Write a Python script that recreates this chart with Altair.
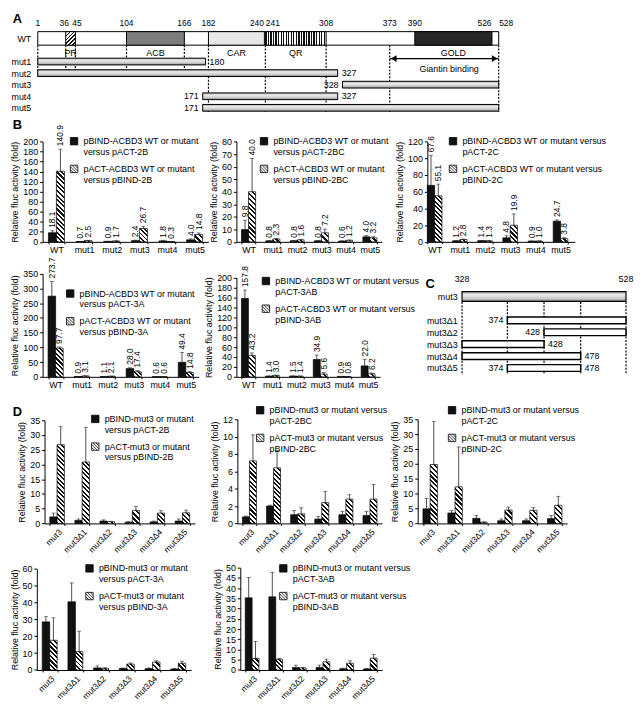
import math
import numpy as np
import altair as alt

FONT = "Liberation Sans"

# ======================= DATA =======================
# Panel A : ACBD3 wild type and truncation mutants (residue numbers)
A_rows = ["WT", " ", "mut1", "mut2", "mut3", "mut4", "mut5"]
A_length = 528
A_domains = ["PR", "ACB", "CAR", "QR", "GOLD"]
A_dom_start = [36, 104, 182, 241, 390]
A_dom_end = [45, 166, 240, 308, 526]
A_mutants = ["mut1", "mut2", "mut3", "mut4", "mut5"]
A_mut_start = [1, 1, 328, 171, 171]
A_mut_end = [180, 327, 528, 327, 528]
A_ticks = [1, 36, 45, 104, 166, 182, 240, 241, 308, 373, 390, 526, 528]
A_guides_short = [1, 36, 45, 104, 166]
A_guides_long = [182, 241, 308, 373, 528]
A_giantin = [373, 528]
A_giantin_label = "Giantin binding"

# Panel C : mut3 deletions
C_rows = ["mut3", " ", "mut3Δ1", "mut3Δ2", "mut3Δ3", "mut3Δ4", "mut3Δ5"]
C_parent = [328, 528]
C_dels = ["mut3Δ1", "mut3Δ2", "mut3Δ3", "mut3Δ4", "mut3Δ5"]
C_del_start = [374, 428, 328, 328, 374]
C_del_end = [528, 528, 428, 478, 478]
C_guides = [328, 374, 428, 478, 528]

# Panels B and D : relative fluc activity (fold)
CAT_B = ["WT", "mut1", "mut2", "mut3", "mut4", "mut5"]
CAT_D = ["mut3", "mut3Δ1", "mut3Δ2", "mut3Δ3", "mut3Δ4", "mut3Δ5"]
Y_TITLE = "Relative fluc activity (fold)"

B2B_labels = ["pBIND-ACBD3 WT or mutant|versus pACT-2B", "pACT-ACBD3 WT or mutant|versus pBIND-2B"]
B2B_bind = [18.1, 0.7, 0.9, 2.4, 1.8, 4.0]
B2B_bind_err = [4.0, 0.3, 0.3, 1.0, 0.6, 2.0]
B2B_act = [140.9, 2.5, 1.7, 26.7, 0.3, 14.8]
B2B_act_err = [44.0, 0.5, 0.4, 4.5, 0.1, 3.0]

B2BC_labels = ["pBIND-ACBD3 WT or mutant|versus pACT-2BC", "pACT-ACBD3 WT or mutant|versus pBIND-2BC"]
B2BC_bind = [9.8, 0.8, 0.8, 0.8, 0.6, 4.0]
B2BC_bind_err = [7.5, 0.2, 0.2, 0.2, 0.2, 1.0]
B2BC_act = [40.0, 2.3, 1.6, 7.2, 1.2, 3.2]
B2BC_act_err = [26.5, 0.4, 0.3, 3.0, 0.3, 1.0]

B2C_labels = ["pBIND-ACBD3 WT or mutant versus|pACT-2C", "pACT-ACBD3 WT or mutant versus|pBIND-2C"]
B2C_bind = [67.6, 1.2, 1.4, 4.8, 0.9, 24.7]
B2C_bind_err = [36.0, 0.3, 0.3, 2.5, 0.1, 1.5]
B2C_act = [55.1, 2.8, 1.3, 19.9, 1.0, 3.8]
B2C_act_err = [14.0, 0.5, 0.2, 13.5, 0.1, 1.2]

B3A_labels = ["pBIND-ACBD3 WT or mutant|versus pACT-3A", "pACT-ACBD3 WT or mutant|versus pBIND-3A"]
B3A_bind = [273.7, 0.9, 1.1, 28.0, 0.6, 49.4]
B3A_bind_err = [50.0, 0.3, 0.3, 3.0, 0.1, 33.0]
B3A_act = [97.7, 3.1, 2.1, 17.4, 0.6, 14.8]
B3A_act_err = [4.0, 0.4, 0.4, 4.0, 0.1, 3.0]

B3AB_labels = ["pBIND-ACBD3 WT or mutant versus|pACT-3AB", "pACT-ACBD3 WT or mutant versus|pBIND-3AB"]
B3AB_bind = [157.8, 1.4, 1.5, 34.9, 0.9, 22.0]
B3AB_bind_err = [17.0, 0.3, 0.3, 9.0, 0.1, 13.0]
B3AB_act = [43.2, 3.0, 1.4, 5.6, 0.8, 6.2]
B3AB_act_err = [5.0, 0.4, 0.3, 3.0, 0.1, 1.5]

D2B_labels = ["pBIND-mut3 or mutant|versus pACT-2B", "pACT-mut3 or mutant|versus pBIND-2B"]
D2B_bind = [2.2, 1.0, 0.8, 0.4, 0.5, 0.8]
D2B_bind_err = [1.3, 0.5, 0.4, 0.2, 0.3, 0.7]
D2B_act = [26.7, 20.8, 0.6, 4.4, 3.5, 3.6]
D2B_act_err = [6.1, 11.8, 0.1, 1.4, 0.8, 0.9]

D2BC_labels = ["pBIND-mut3 or mutant versus|pACT-2BC", "pACT-mut3 or mutant versus|pBIND-2BC"]
D2BC_bind = [0.75, 2.0, 1.0, 0.5, 1.0, 0.9]
D2BC_bind_err = [0.1, 0.1, 0.5, 0.3, 0.4, 0.5]
D2BC_act = [7.2, 6.4, 1.1, 2.4, 2.8, 2.8]
D2BC_act_err = [3.0, 2.0, 0.7, 1.3, 0.5, 1.7]

D2C_labels = ["pBIND-mut3 or mutant versus|pACT-2C", "pACT-mut3 or mutant versus|pBIND-2C"]
D2C_bind = [4.9, 3.5, 1.7, 0.9, 0.9, 1.6]
D2C_bind_err = [3.5, 0.8, 1.0, 0.6, 0.6, 1.1]
D2C_act = [19.8, 12.3, 0.4, 4.5, 4.4, 6.1]
D2C_act_err = [14.5, 13.4, 0.1, 1.0, 0.9, 3.0]

D3A_labels = ["pBIND-mut3 or mutant|versus pACT-3A", "pACT-mut3 or mutant|versus pBIND-3A"]
D3A_bind = [28.5, 40.4, 1.2, 0.9, 0.8, 0.6]
D3A_bind_err = [3.1, 11.2, 1.2, 0.3, 0.4, 0.2]
D3A_act = [17.6, 10.9, 1.0, 3.5, 4.7, 4.0]
D3A_act_err = [13.3, 12.1, 0.3, 0.7, 0.8, 1.2]

D3AB_labels = ["pBIND-mut3 or mutant versus|pACT-3AB", "pACT-mut3 or mutant versus|pBIND-3AB"]
D3AB_bind = [35.3, 35.8, 1.2, 1.2, 0.6, 0.5]
D3AB_bind_err = [10.0, 12.0, 1.2, 1.2, 0.3, 0.2]
D3AB_act = [5.7, 5.2, 1.0, 4.0, 3.3, 5.8]
D3AB_act_err = [8.3, 0.5, 0.3, 1.3, 1.2, 1.8]

# ======================= LAYOUT =======================
SX = 0.975


def fx(v):
    return round((v - 33) * SX, 2)


def fy(v):
    return round((v - 22) * SX, 2)


CW, CH = 590, 645

# schematic drawings are not to scale: piecewise position scales
A_knot_res = [1, 36, 45, 104, 166, 171, 180, 182, 240, 241, 308, 327, 328, 373, 390, 526, 528]
A_knot_ref = [28, 57, 67, 120, 180, 199, 202, 205, 263, 264, 327, 339, 344, 393, 419, 499, 506]
A_knot_px = [fx(v) for v in A_knot_ref]
A_y_ref = (22, 106)
C_knot_ref = [468, 515, 553, 591, 638]
C_knot_px = [fx(v) for v in C_knot_ref]
C_y_ref = (289.5, 376)

PANELS = [
    dict(cats=CAT_B, labels=B2B_labels, v=(B2B_bind, B2B_act), e=(B2B_bind_err, B2B_act_err),
         ymax=200, ystep=20, box=(33, 135, 205, 239), leg=(61, 130), values=True),
    dict(cats=CAT_B, labels=B2BC_labels, v=(B2BC_bind, B2BC_act), e=(B2BC_bind_err, B2BC_act_err),
         ymax=80, ystep=10, box=(234, 135, 385, 239), leg=(258, 130), values=True),
    dict(cats=CAT_B, labels=B2C_labels, v=(B2C_bind, B2C_act), e=(B2C_bind_err, B2C_act_err),
         ymax=120, ystep=20, box=(432, 135, 585, 239), leg=(454, 130), values=True, po=0.14, align=0.0),
    dict(cats=CAT_B, labels=B3A_labels, v=(B3A_bind, B3A_act), e=(B3A_bind_err, B3A_act_err),
         ymax=350, ystep=50, box=(33, 272, 195, 379), leg=(57, 288), values=True),
    dict(cats=CAT_B, labels=B3AB_labels, v=(B3AB_bind, B3AB_act), e=(B3AB_bind_err, B3AB_act_err),
         ymax=200, ystep=20, box=(234, 276, 383, 379), leg=(260, 275), values=True),
    dict(cats=CAT_D, labels=D2B_labels, v=(D2B_bind, D2B_act), e=(D2B_bind_err, D2B_act_err),
         ymax=35, ystep=5, box=(35, 424, 191, 531), leg=(83, 418), values=False),
    dict(cats=CAT_D, labels=D2BC_labels, v=(D2BC_bind, D2BC_act), e=(D2BC_bind_err, D2BC_act_err),
         ymax=12, ystep=2, box=(235, 423, 385, 531), leg=(254, 409), values=False),
    dict(cats=CAT_D, labels=D2C_labels, v=(D2C_bind, D2C_act), e=(D2C_bind_err, D2C_act_err),
         ymax=35, ystep=5, box=(422, 423, 577, 531), leg=(453, 409), values=False),
    dict(cats=CAT_D, labels=D3A_labels, v=(D3A_bind, D3A_act), e=(D3A_bind_err, D3A_act_err),
         ymax=60, ystep=10, box=(27, 578, 187, 683), leg=(77, 573), values=False),
    dict(cats=CAT_D, labels=D3AB_labels, v=(D3AB_bind, D3AB_act), e=(D3AB_bind_err, D3AB_act_err),
         ymax=50, ystep=5, box=(238, 577, 385, 683), leg=(278, 573), values=False),
]

LETTERS = [("A", (2, 8)), ("B", (2, 118)), ("C", (430, 283)), ("D", (2, 416))]

# ======================= STYLE HELPERS =======================
INK = "#111111"


def stripe_stops(n, duty, ink=INK, paper="#ffffff"):
    stops = []
    for k in range(n):
        a, b, c = k / n, (k + duty) / n, (k + 1) / n
        stops += [{"offset": round(a, 5), "color": ink}, {"offset": round(b, 5), "color": ink},
                  {"offset": round(b, 5), "color": paper}, {"offset": round(c, 5), "color": paper}]
    return stops


def hatch_back(w, h, period=3.3):
    """diagonal '\\' hatching for a w x h pixel rectangle"""
    w, h = max(w, 0.5), max(h, 0.5)
    lam = (w + h) / (w * w + h * h)
    n = max(1, int(round((w + h) / (math.sqrt(2) * period))))
    return {"gradient": "linear", "x1": 0, "y1": 1, "x2": round(lam * w, 5),
            "y2": round(1 - lam * h, 5), "stops": stripe_stops(n, 0.45)}


def hatch_fwd(w, h, period=3.0):
    """diagonal '/' hatching"""
    w, h = max(w, 0.5), max(h, 0.5)
    mu = (w + h) / (w * w + h * h)
    n = max(1, int(round((w + h) / (math.sqrt(2) * period))))
    return {"gradient": "linear", "x1": 0, "y1": 0, "x2": round(mu * w, 5),
            "y2": round(mu * h, 5), "stops": stripe_stops(n, 0.4)}


def vstripes(w, period=2.6):
    n = max(1, int(round(w / period)))
    return {"gradient": "linear", "x1": 0, "y1": 0, "x2": 1, "y2": 0, "stops": stripe_stops(n, 0.5)}


TUBE = {"gradient": "linear", "x1": 0, "y1": 0, "x2": 0.001, "y2": 1,
        "stops": [{"offset": 0, "color": "#9a9a9a"}, {"offset": 0.3, "color": "#ececec"},
                  {"offset": 0.7, "color": "#cdcdcd"}, {"offset": 1, "color": "#858585"}]}


def hatch_symbol():
    parts = ["M-1,-1L1,-1L1,1L-1,1Z"]
    for c in (-1.2, -0.4, 0.4, 1.2):
        if c >= 0:
            parts.append(f"M{c - 1:.2f},-1L1,{1 - c:.2f}")
        else:
            parts.append(f"M-1,{-1 - c:.2f}L{1 + c:.2f},1")
    return "".join(parts)


HATCH_SYMBOL = hatch_symbol()
DOM_STYLE = {"PR": "fwd", "ACB": "#7d7d7d", "CAR": "#e8e8e8", "QR": "vstripe", "GOLD": "#262626"}

# ======================= PANEL A =======================
def a_px(v):
    return float(np.interp(v, A_knot_res, A_knot_px))


xA = alt.Scale(domain=A_knot_res, range=A_knot_px, nice=False, zero=False)
yA = alt.Scale(type="point", domain=A_rows, range=[fy(A_y_ref[0]), fy(A_y_ref[1])], padding=0.5)
axAy = alt.Axis(orient="left", offset=0, domain=False, ticks=False, labelPadding=12, title=None, grid=False)


def AX(f):
    return alt.X(f, scale=xA, axis=None, title=None)


def AY(f):
    return alt.Y(f, scale=yA, axis=axAy, title=None)


BAR_H_WT = 14 * SX
wt = alt.Chart(alt.Data(values=[{"row": A_rows[0], "s": 1, "e": A_length}])).mark_bar(
    height=BAR_H_WT, fill="#ffffff", stroke="#000000", strokeWidth=1).encode(
    x=AX("s:Q"), x2="e:Q", y=AY("row:N"))

# residue numbers above the WT bar; crowded neighbours are pushed apart
tick_recs = []
for i, t in enumerate(A_ticks):
    left_gap = a_px(t) - a_px(A_ticks[i - 1]) if i > 0 else 99
    right_gap = a_px(A_ticks[i + 1]) - a_px(t) if i < len(A_ticks) - 1 else 99
    if right_gap < 8:
        mode = "right"
    elif left_gap < 8:
        mode = "left"
    elif right_gap < 13:
        mode = "pushL"
    elif left_gap < 13:
        mode = "pushR"
    else:
        mode = "center"
    tick_recs.append({"pos": t, "row": A_rows[0], "txt": str(t), "mode": mode})
TICK_MODES = {"center": ("center", 0), "right": ("right", -0.5), "left": ("left", 0.5),
              "pushL": ("center", -1.5), "pushR": ("center", 1.5)}
tick_layers = []
for mode, (al, ddx) in TICK_MODES.items():
    tick_layers.append(alt.Chart(alt.Data(values=tick_recs)).mark_text(
        fontSize=8.5, align=al, dx=ddx, dy=-(BAR_H_WT / 2 + 3.5), baseline="bottom", color="#000").encode(
        x=AX("pos:Q"), y=AY("row:N"), text="txt:N").transform_filter(f"datum.mode == '{mode}'"))

dom_recs = []
for nm, s, e in zip(A_domains, A_dom_start, A_dom_end):
    st = DOM_STYLE[nm]
    w = a_px(e) - a_px(s)
    if st == "fwd":
        fill = hatch_fwd(w, BAR_H_WT)
    elif st == "vstripe":
        fill = vstripes(w)
    else:
        fill = st
    dom_recs.append({"row": A_rows[0], "s": s, "e": e, "name": nm, "fill": fill,
                     "mid": (s + e) / 2, "lrow": A_rows[1]})
doms = alt.Chart(alt.Data(values=dom_recs)).mark_bar(
    height=BAR_H_WT, stroke="#000000", strokeWidth=1).encode(
    x=AX("s:Q"), x2="e:Q", y=AY("row:N"), fill=alt.Fill("fill:N", scale=None))
dom_text = alt.Chart(alt.Data(values=dom_recs)).mark_text(fontSize=9, dy=3, color="#000").encode(
    x=AX("mid:Q"), y=AY("lrow:N"), text="name:N")

mut_recs = [{"row": m, "s": s, "e": e} for m, s, e in zip(A_mutants, A_mut_start, A_mut_end)]
muts = alt.Chart(alt.Data(values=mut_recs)).mark_bar(
    height=7 * SX, fill=TUBE, stroke="#000000", strokeWidth=1).encode(
    x=AX("s:Q"), x2="e:Q", y=AY("row:N"))

end_recs = []
for m, s, e in zip(A_mutants, A_mut_start, A_mut_end):
    if s != 1:
        end_recs.append({"row": m, "pos": s, "txt": str(s), "side": "L"})
    if e != A_length:
        end_recs.append({"row": m, "pos": e, "txt": str(e), "side": "R"})
endL = alt.Chart(alt.Data(values=end_recs)).mark_text(fontSize=9, align="right", dx=-4, color="#000").encode(
    x=AX("pos:Q"), y=AY("row:N"), text="txt:N").transform_filter("datum.side == 'L'")
endR = alt.Chart(alt.Data(values=end_recs)).mark_text(fontSize=9, align="left", dx=4, color="#000").encode(
    x=AX("pos:Q"), y=AY("row:N"), text="txt:N").transform_filter("datum.side == 'R'")

guide_recs = ([{"pos": p, "r0": A_rows[0], "r1": "mut2"} for p in A_guides_short] +
              [{"pos": p, "r0": A_rows[0], "r1": "mut5"} for p in A_guides_long])
guides = alt.Chart(alt.Data(values=guide_recs)).mark_rule(
    strokeDash=[2, 1.5], strokeWidth=1.2, color="#000", yOffset=7 * SX, y2Offset=4).encode(
    x=AX("pos:Q"), y=AY("r0:N"), y2="r1:N")

g_rec = [{"s": A_giantin[0], "e": A_giantin[1], "row": "mut1",
          "mid": (A_giantin[0] + A_giantin[1]) / 2, "txt": A_giantin_label}]
arrow = alt.Chart(alt.Data(values=g_rec)).mark_rule(strokeWidth=1.3, color="#000", yOffset=-3).encode(
    x=AX("s:Q"), x2="e:Q", y=AY("row:N"))
headL = alt.Chart(alt.Data(values=g_rec)).mark_point(
    shape="triangle-left", filled=True, size=45, color="#000", opacity=1, xOffset=4, yOffset=-3).encode(
    x=AX("s:Q"), y=AY("row:N"))
headR = alt.Chart(alt.Data(values=g_rec)).mark_point(
    shape="triangle-right", filled=True, size=45, color="#000", opacity=1, xOffset=-4, yOffset=-3).encode(
    x=AX("e:Q"), y=AY("row:N"))
g_text = alt.Chart(alt.Data(values=g_rec)).mark_text(fontSize=9, dy=8, color="#000").encode(
    x=AX("mid:Q"), y=AY("row:N"), text="txt:N")

panel_A = alt.layer(guides, wt, doms, muts, dom_text, endL, endR, arrow, headL, headR, g_text, *tick_layers)

# ======================= PANEL C =======================
xC = alt.Scale(domain=C_guides, range=C_knot_px, nice=False, zero=False)
yC = alt.Scale(type="point", domain=C_rows, range=[fy(C_y_ref[0]), fy(C_y_ref[1])], padding=0.5)
axCy = alt.Axis(orient="left", offset=-fx(C_knot_ref[0]), domain=False, ticks=False, labelPadding=5,
                title=None, grid=False)


def CX(f):
    return alt.X(f, scale=xC, axis=None, title=None)


def CY(f):
    return alt.Y(f, scale=yC, axis=axCy, title=None)


c_par = [{"row": C_rows[0], "s": C_parent[0], "e": C_parent[1]}]
c_parent_bar = alt.Chart(alt.Data(values=c_par)).mark_bar(
    height=10 * SX, fill=TUBE, stroke="#000", strokeWidth=1.2).encode(x=CX("s:Q"), x2="e:Q", y=CY("row:N"))
c_par_lab = [{"row": C_rows[0], "pos": p, "txt": str(p)} for p in C_parent]
c_parent_txt = alt.Chart(alt.Data(values=c_par_lab)).mark_text(fontSize=9, dy=-18, color="#000").encode(
    x=CX("pos:Q"), y=CY("row:N"), text="txt:N")
c_del_recs = [{"row": d, "s": s, "e": e} for d, s, e in zip(C_dels, C_del_start, C_del_end)]
c_dels = alt.Chart(alt.Data(values=c_del_recs)).mark_bar(
    height=7 * SX, fill="#ffffff", stroke="#000", strokeWidth=1.5).encode(x=CX("s:Q"), x2="e:Q", y=CY("row:N"))
c_end = []
for d, s, e in zip(C_dels, C_del_start, C_del_end):
    if s != C_parent[0]:
        c_end.append({"row": d, "pos": s, "txt": str(s), "side": "L"})
    if e != C_parent[1]:
        c_end.append({"row": d, "pos": e, "txt": str(e), "side": "R"})
c_endL = alt.Chart(alt.Data(values=c_end)).mark_text(fontSize=9, align="right", dx=-4, color="#000").encode(
    x=CX("pos:Q"), y=CY("row:N"), text="txt:N").transform_filter("datum.side == 'L'")
c_endR = alt.Chart(alt.Data(values=c_end)).mark_text(fontSize=9, align="left", dx=4, color="#000").encode(
    x=CX("pos:Q"), y=CY("row:N"), text="txt:N").transform_filter("datum.side == 'R'")
c_g = [{"pos": p, "r0": C_rows[0], "r1": C_rows[-1]} for p in C_guides]
c_guides = alt.Chart(alt.Data(values=c_g)).mark_rule(
    strokeDash=[2, 1.5], strokeWidth=1.2, color="#000", yOffset=5.5, y2Offset=5.5).encode(
    x=CX("pos:Q"), y=CY("r0:N"), y2="r1:N")
panel_C = alt.layer(c_guides, c_parent_bar, c_dels, c_parent_txt, c_endL, c_endR)

# ======================= BAR PANELS =======================
def bar_panel(p):
    cats, labs = p["cats"], p["labels"]
    x0, y0, x1, y1 = p["box"]
    X0, X1, Y0, Y1 = fx(x0), fx(x1), fy(y0), fy(y1)
    pi, po, al = 0.42, p.get("po", 0.21), p.get("align", 0.5)
    n = len(cats)
    step = (X1 - X0) / (n - pi + 2 * po)
    bw = step * (1 - pi) / 2
    recs = []
    for i, c in enumerate(cats):
        for k in range(2):
            v, e = p["v"][k][i], p["e"][k][i]
            h = v / p["ymax"] * (Y1 - Y0)
            recs.append({"cat": c, "k": labs[k], "v": v, "top": round(v + e, 3),
                         "fill": INK if k == 0 else hatch_back(bw, h), "lab": f"{v:.1f}"})
    rot = cats is CAT_D
    xaxis = alt.Axis(orient="bottom", offset=round(Y1 - CH, 2), title=None, tickBand="extent", tickSize=2,
                     labelPadding=2, grid=False, labelAngle=-45 if rot else 0,
                     labelAlign="right" if rot else "center", labelBaseline="top",
                     labelFontSize=8.5 if rot else 9)
    yaxis = alt.Axis(orient="left", offset=round(-X0, 2), values=list(range(0, p["ymax"] + 1, p["ystep"])),
                     format="d", title=Y_TITLE, tickSize=3, labelPadding=2, titlePadding=3, grid=False)
    X = alt.X("cat:N", sort=cats, title=None, axis=xaxis,
              scale=alt.Scale(domain=cats, range=[X0, X1], paddingInner=pi, paddingOuter=po, align=al))
    XO = alt.XOffset("k:N", sort=labs, scale=alt.Scale(domain=labs, paddingInner=0, paddingOuter=0))
    Y = alt.Y("v:Q", title=None, axis=yaxis,
              scale=alt.Scale(domain=[0, p["ymax"]], range=[Y1, Y0], nice=False, zero=True))
    bars = alt.Chart().mark_bar(stroke="#000", strokeWidth=0.7).encode(
        x=X, xOffset=XO, y=Y, fill=alt.Fill("fill:N", scale=None))
    err = alt.Chart().mark_rule(color="#222", strokeWidth=0.8).encode(x=X, xOffset=XO, y="v:Q", y2="top:Q")
    cap = alt.Chart().mark_tick(color="#222", thickness=0.8, size=4, orient="horizontal").encode(
        x=X, xOffset=XO, y="top:Q")
    leg = alt.Legend(orient="none", legendX=fx(p["leg"][0]), legendY=fy(p["leg"][1]), title=None,
                     labelExpr="split(datum.label, '|')", labelLimit=400, labelFontSize=9, labelOffset=5,
                     symbolSize=56, symbolStrokeColor="#000000", symbolStrokeWidth=0.8,
                     rowPadding=6, padding=0)
    legend = alt.Chart().mark_point(filled=True, opacity=1).encode(
        color=alt.Color("k:N", scale=alt.Scale(domain=labs, range=[INK, "#ffffff"]), legend=leg),
        shape=alt.Shape("k:N", scale=alt.Scale(domain=labs, range=["square", HATCH_SYMBOL]), legend=leg),
    ).transform_filter("false")
    layers = [bars, err, cap]
    if p["values"]:
        layers.append(alt.Chart().mark_text(angle=270, align="left", baseline="middle", dx=3,
                                            fontSize=8.5, color="#000").encode(
            x=X, xOffset=XO, y="top:Q", text="lab:N"))
    layers.append(legend)
    return alt.layer(*layers, data=alt.Data(values=recs))


panels = [bar_panel(p) for p in PANELS]

letters = [alt.Chart(alt.Data(values=[{"t": t}])).mark_text(
    align="left", baseline="middle", fontSize=13, fontWeight="bold", color="#000").encode(
    x=alt.value(fx(pos[0])), y=alt.value(fy(pos[1])), text="t:N") for t, pos in LETTERS]

chart = alt.layer(panel_A, panel_C, *panels, *letters).resolve_scale(
    x="independent", y="independent", xOffset="independent", color="independent",
    shape="independent", fill="independent").resolve_axis(
    x="independent", y="independent").resolve_legend(
    color="independent", shape="independent").properties(
    width=CW, height=CH, padding={"left": 2, "top": 1, "right": 2, "bottom": 1}
).configure(font=FONT).configure_view(stroke=None).configure_axis(
    labelFont=FONT, titleFont=FONT, labelFontSize=9, titleFontSize=9, titleFontWeight="normal",
    labelColor="#000", titleColor="#000", domainColor="#000", tickColor="#000", grid=False
).configure_legend(labelFont=FONT, labelFontSize=9, labelColor="#000")

chart.save("out.html", embed_options={"renderer": "svg", "actions": False})
